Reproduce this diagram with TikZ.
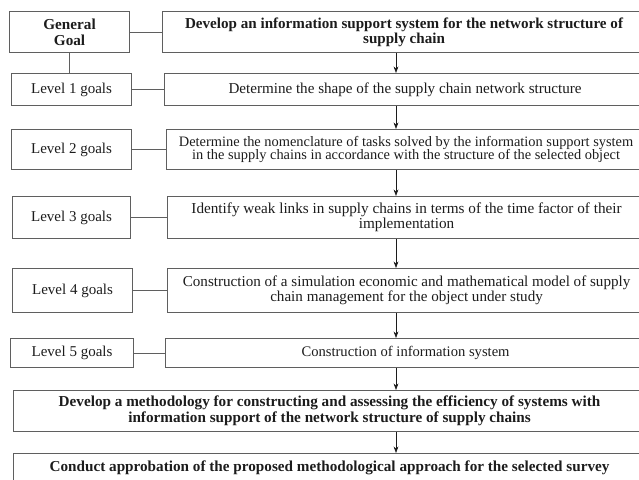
\documentclass[tikz,border=0pt]{standalone}
\usepackage{fontspec}
\setmainfont{Liberation Serif}
\usetikzlibrary{positioning,arrows.meta,calc}
\definecolor{FrameGray}{RGB}{95,95,95}
\definecolor{InkBlack}{RGB}{28,28,28}
\tikzset{
  flow/.style={-{Stealth[length=2.3mm,width=1.7mm]},semithick,draw=InkBlack},
  link/.style={semithick,draw=FrameGray},
  levelbox/.style={draw=FrameGray,line width=1.1pt,anchor=north west,inner sep=0pt,
    align=center,text=InkBlack,font=\fontsize{15}{16}\selectfont},
  taskbox/.style={draw=FrameGray,line width=1.1pt,anchor=north west,inner sep=0pt,
    align=center,text=InkBlack,font=\fontsize{15}{15.5}\selectfont},
  goalbox/.style={taskbox,font=\fontsize{15.2}{16}\selectfont\bfseries}
}

\begin{document}
\begin{tikzpicture}[x=1pt,y=-1pt]
  \useasboundingbox (0,0) rectangle (639,479);
  \clip (0,0) rectangle (639,479);
  \coordinate (arrx) at (396,0);

  \node[goalbox,minimum width=120pt,minimum height=41pt] (general) at (9,11) {General\\Goal};
  \node[goalbox,minimum width=483pt,minimum height=41pt,font=\fontsize{15.1}{15}\selectfont\bfseries] (task0) at (162,11)
    {Develop an information support system for the network structure of\\supply chain};

  \node[levelbox,minimum width=120pt,minimum height=32pt] (lvl1) at (11,73) {Level 1 goals};
  \node[taskbox,minimum width=481pt,minimum height=32pt,font=\fontsize{15.1}{15.5}\selectfont] (task1) at (164,73)
    {Determine the shape of the supply chain network structure};

  \node[levelbox,minimum width=120pt,minimum height=40pt] (lvl2) at (11,129) {Level 2 goals};
  \node[taskbox,minimum width=479pt,minimum height=40pt,font=\fontsize{14.4}{13.5}\selectfont] (task2) at (166,129)
    {Determine the nomenclature of tasks solved by the information support system\\in the supply chains in accordance with the structure of the selected object};

  \node[levelbox,minimum width=118pt,minimum height=42pt] (lvl3) at (12,196) {Level 3 goals};
  \node[taskbox,minimum width=478pt,minimum height=42pt,font=\fontsize{15.2}{15}\selectfont] (task3) at (167,196)
    {Identify weak links in supply chains in terms of the time factor of their\\implementation};

  \node[levelbox,minimum width=120pt,minimum height=44pt] (lvl4) at (12,268) {Level 4 goals};
  \node[taskbox,minimum width=478pt,minimum height=44pt,font=\fontsize{15.1}{14.5}\selectfont] (task4) at (167,268)
    {Construction of a simulation economic and mathematical model of supply\\chain management for the object under study};

  \node[levelbox,minimum width=123pt,minimum height=29pt] (lvl5) at (10,338) {Level 5 goals};
  \node[taskbox,minimum width=480pt,minimum height=29pt,font=\fontsize{14.6}{15}\selectfont] (task5) at (165,338)
    {Construction of information system};

  \node[goalbox,minimum width=632pt,minimum height=41pt] (method) at (13,390)
    {Develop a methodology for constructing and assessing the efficiency of systems with\\information support of the network structure of supply chains};
  \node[goalbox,minimum width=632pt,minimum height=29pt] (conduct) at (13,453)
    {Conduct approbation of the proposed methodological approach for the selected survey};

  \draw[link] (general) -- (task0);
  \draw[link] (general.south) -- (general.south |- lvl1.north);
  \foreach \n in {1,...,5}
    \draw[link] (lvl\n) -- (task\n);
  \foreach \a/\b in {task0/task1,task1/task2,task2/task3,task3/task4,task4/task5,task5/method,method/conduct}
    \draw[flow] (\a.south -| arrx) -- (\b.north -| arrx);
\end{tikzpicture}
\end{document}
